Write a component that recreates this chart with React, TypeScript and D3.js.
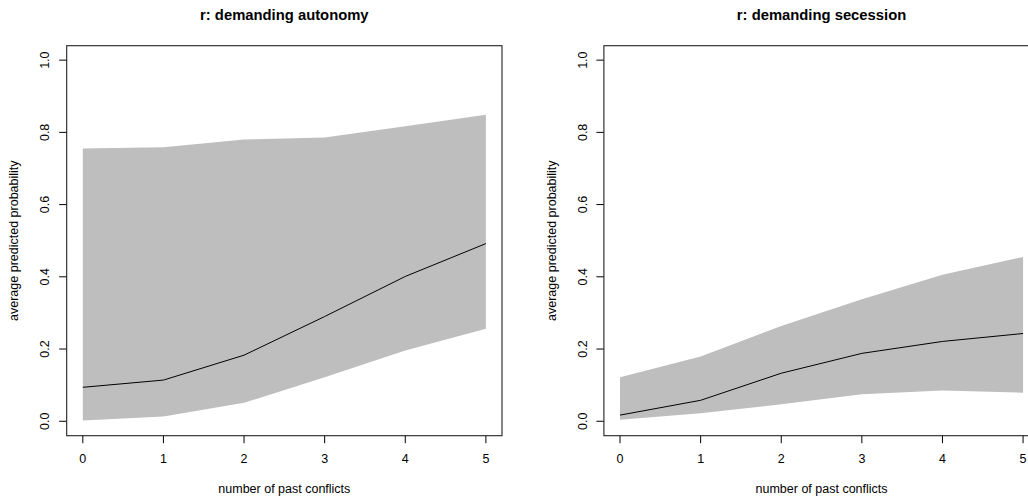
import React from 'react';
import * as d3 from 'd3';

// number of past conflicts (x) and the predicted probabilities
const conflicts = [0, 1, 2, 3, 4, 5];

const autonomyMean = [0.094, 0.114, 0.183, 0.29, 0.401, 0.492];
const autonomyUpper = [0.755, 0.759, 0.78, 0.786, 0.817, 0.849];
const autonomyLower = [0.002, 0.013, 0.051, 0.122, 0.196, 0.256];

const secessionMean = [0.017, 0.058, 0.133, 0.188, 0.221, 0.243];
const secessionUpper = [0.122, 0.179, 0.264, 0.338, 0.406, 0.455];
const secessionLower = [0.004, 0.022, 0.047, 0.075, 0.085, 0.079];

const yTicks = [0, 0.2, 0.4, 0.6, 0.8, 1.0];
const xTicks = [0, 1, 2, 3, 4, 5];

const panelTitles = ['r: demanding autonomy', 'r: demanding secession'];
const xLabel = 'number of past conflicts';
const yLabel = 'average predicted probability';

const FONT = '"Liberation Sans", Arial, Helvetica, sans-serif';

const W = 1028;
const H = 498;
const plotW = 435.3;
const plotH = 390;
const plotTop = 45.7;
const panelLefts = [66.7, 603.9];

interface PanelProps {
  left: number;
  title: string;
  mean: number[];
  upper: number[];
  lower: number[];
}

const Panel = ({ left, title, mean, upper, lower }: PanelProps) => {
  // R pads the data range by 4% on each side
  const x = d3.scaleLinear().domain([-0.2, 5.2]).range([0, plotW]);
  const y = d3.scaleLinear().domain([-0.04, 1.04]).range([plotH, 0]);

  const band = d3
    .area<number>()
    .x((d) => x(d))
    .y0((_, i) => y(lower[i]))
    .y1((_, i) => y(upper[i]));

  const line = d3
    .line<number>()
    .x((d) => x(d))
    .y((_, i) => y(mean[i]));

  return (
    <g transform={`translate(${left},${plotTop})`}>
      <text
        x={plotW / 2}
        y={19.5 - plotTop}
        textAnchor="middle"
        fontWeight="bold"
        fontSize={14.8}
      >
        {title}
      </text>

      <path d={band(conflicts) ?? ''} fill="#bebebe" stroke="none" />
      <path d={line(conflicts) ?? ''} fill="none" stroke="#000" strokeWidth={1} />

      {/* y axis */}
      {yTicks.map((t) => (
        <g key={`y${t}`} transform={`translate(0,${y(t)})`}>
          <line x1={-7.5} x2={0} stroke="#000" strokeWidth={1} />
          <text
            transform="translate(-17.4,0) rotate(-90)"
            textAnchor="middle"
            fontSize={12.5}
          >
            {t.toFixed(1)}
          </text>
        </g>
      ))}

      {/* x axis */}
      {xTicks.map((t) => (
        <g key={`x${t}`} transform={`translate(${x(t)},${plotH})`}>
          <line y1={0} y2={7.5} stroke="#000" strokeWidth={1} />
          <text y={27.6} textAnchor="middle" fontSize={12.5}>
            {t}
          </text>
        </g>
      ))}

      <rect
        x={0}
        y={0}
        width={plotW}
        height={plotH}
        fill="none"
        stroke="#222"
        strokeWidth={1.1}
      />

      <text x={plotW / 2} y={plotH + 57.3} textAnchor="middle" fontSize={12.5}>
        {xLabel}
      </text>
      <text
        transform={`translate(-48.2,${plotH / 2}) rotate(-90)`}
        textAnchor="middle"
        fontSize={12.5}
      >
        {yLabel}
      </text>
    </g>
  );
};

const App = () => {
  return (
    <svg
      width={W}
      height={H}
      style={{ position: 'absolute', left: 0, top: 0, background: '#fff' }}
      fontFamily={FONT}
    >
      <rect width={W} height={H} fill="#fff" />
      <Panel
        left={panelLefts[0]}
        title={panelTitles[0]}
        mean={autonomyMean}
        upper={autonomyUpper}
        lower={autonomyLower}
      />
      <Panel
        left={panelLefts[1]}
        title={panelTitles[1]}
        mean={secessionMean}
        upper={secessionUpper}
        lower={secessionLower}
      />
    </svg>
  );
};

export default App;
